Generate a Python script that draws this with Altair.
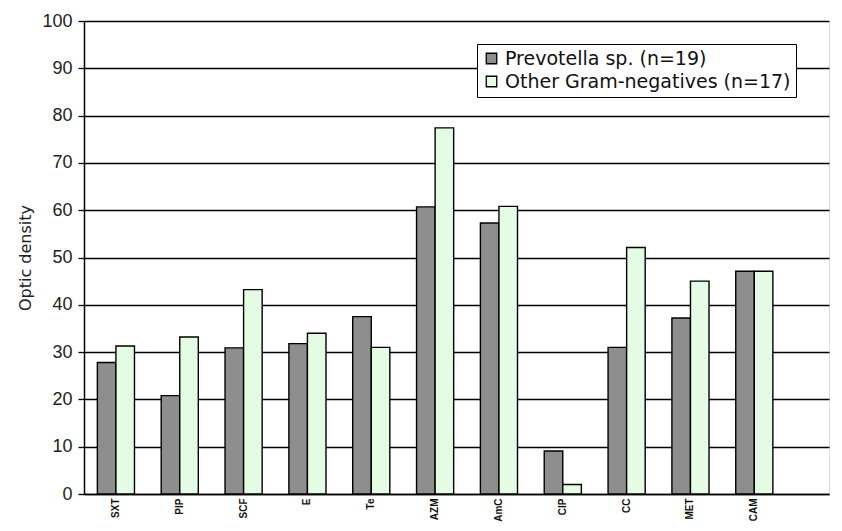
import altair as alt
import pandas as pd

categories = ["SXT", "PIP", "SCF", "E", "Te", "AZM", "AmC", "CIP", "CC", "MET", "CAM"]
prevotella = [27.8, 20.8, 30.9, 31.8, 37.5, 60.7, 57.3, 9.1, 31.0, 37.2, 47.1]
other_gn = [31.3, 33.2, 43.2, 34.0, 31.0, 77.4, 60.8, 2.0, 52.1, 45.0, 47.1]
series = ["Prevotella sp. (n=19)", "Other Gram-negatives (n=17)"]
colors = ["#8e8e8e", "#e4fbe4"]
y_ticks = [0, 10, 20, 30, 40, 50, 60, 70, 80, 90, 100]

rows = []
for i, c in enumerate(categories):
    rows.append({"cat": c, "group": series[0], "value": prevotella[i]})
    rows.append({"cat": c, "group": series[1], "value": other_gn[i]})
df = pd.DataFrame(rows)

chart = alt.Chart(df).mark_bar(stroke="black", strokeWidth=1.4).encode(
    x=alt.X(
        "cat:N",
        sort=categories,
        title=None,
        scale=alt.Scale(paddingInner=0, paddingOuter=0.335, align=0),
        axis=alt.Axis(
            labelAngle=270,
            labelFont="Liberation Sans",
            labelFontSize=10,
            labelFontWeight="bold",
            labelColor="#111",
            labelPadding=4,
            ticks=False,
            domainColor="black",
            domainWidth=1.5,
            labelAlign="right",
            labelBaseline="middle",
        ),
    ),
    xOffset=alt.XOffset("group:N", sort=series, scale=alt.Scale(paddingOuter=0.72, paddingInner=0)),
    y=alt.Y(
        "value:Q",
        title="Optic density",
        scale=alt.Scale(domain=[0, 100], nice=False),
        axis=alt.Axis(
            values=y_ticks,
            labelFont="Liberation Sans",
            labelFontSize=18,
            labelColor="#222",
            labelPadding=6,
            tickColor="black",
            tickSize=6,
            tickWidth=1.3,
            domainColor="black",
            domainWidth=1.5,
            gridColor="black",
            gridWidth=1.5,
            titleFont="DejaVu Sans",
            titleFontSize=16,
            titleFontWeight="normal",
            titleColor="#222",
            titlePadding=8,
        ),
    ),
    color=alt.Color(
        "group:N",
        sort=series,
        scale=alt.Scale(domain=series, range=colors),
        legend=alt.Legend(
            title=None,
            orient="none",
            legendX=393,
            legendY=23,
            strokeColor="black",
            fillColor="white",
            padding=5,
            rowPadding=3,
            labelFont="DejaVu Sans",
            labelFontSize=19,
            labelColor="#111",
            labelLimit=500,
            symbolType="square",
            symbolSize=110,
            symbolStrokeColor="black",
            symbolStrokeWidth=1.3,
            labelOffset=4,
        ),
    ),
).properties(
    width=745,
    height=473,
    padding={"left": 76, "top": 13, "right": 5, "bottom": 29},
    autosize=alt.AutoSizeParams(type="none"),
).configure_view(
    stroke=None
).configure(background="white")

chart.save("out.html", embed_options={"renderer": "svg", "actions": False})
